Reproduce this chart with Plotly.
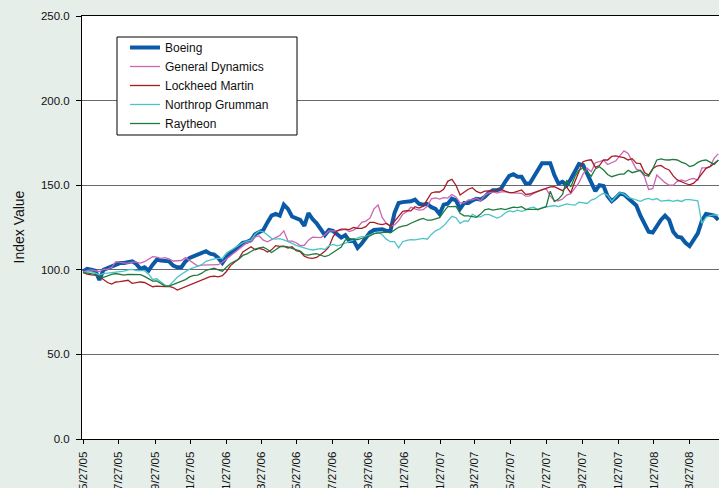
import pandas as pd
import plotly.graph_objects as go

# Weekly observation dates
dates = pd.date_range("2005-05-27", periods=156, freq="7D")

boeing = [99, 100.5, 100, 99.5, 94, 100, 101, 102, 103.5, 104, 104, 104.5, 105, 103.5, 100.5, 101.5,
          99.5, 103, 106, 105.5, 105.5, 105, 102.5, 101.5, 101.5, 105, 107, 108, 108.5, 110, 111, 109.5,
          109, 107, 104, 107.5, 110, 111.5, 114, 116, 116.5, 117.5, 121, 122.5, 123.5, 128, 132, 133,
          132, 138.5, 136, 131.5, 130.5, 129.5, 126, 133.5, 130, 127.5, 124, 120.5, 123.5, 123, 121, 119,
          120.5, 117, 117.5, 113, 115.5, 119, 122, 123.5, 124, 124, 123, 123, 133.5, 139.5, 140, 140,
          140.5, 141.5, 139, 138.5, 139, 137, 136, 133, 138.5, 139, 142, 141, 136, 139.5, 139.5, 141,
          142, 141.5, 143, 145.5, 147, 147, 148, 152, 155.5, 156.5, 155, 155, 151, 151, 154.5, 159,
          163, 163, 163, 156, 151, 152, 150, 153.5, 158, 162.5, 162, 157, 151, 146.5, 150, 149.5,
          143.5, 140.5, 142.5, 145, 144.5, 142.5, 140, 138, 132, 127, 122.5, 122, 126, 129.5, 132, 129.5,
          122.5, 119.5, 119, 116, 114, 117.5, 121.5, 129, 133, 132.5, 132, 129.5]

general_dynamics = [98.5, 99.5, 100, 99.5, 99, 100.3, 100.3, 101.5, 104.8, 104.5, 104, 104, 104.5, 104.5, 104, 104.8,
                    106.5, 107.8, 107.5, 106.8, 107.2, 106.5, 105.2, 105.2, 105.5, 107.2, 105.5, 104, 102.2, 102.8, 102.8, 102.8,
                    102.8, 103, 104.5, 106.5, 108.3, 110, 112, 114.5, 116, 116.5, 119.5, 120, 117.5, 116.5, 117.6, 119,
                    120.3, 123, 117, 117, 116, 114.3, 114.5, 117.5, 119.3, 119, 119, 120.6, 123, 123, 123, 123.5,
                    123.9, 122.6, 123.5, 125, 128, 128.8, 130.5, 136, 138.3, 131, 127.5, 126, 126.5, 129, 132.8, 134.3,
                    137, 136, 135.3, 135.5, 137.5, 142, 142.5, 141.8, 142.7, 142.4, 144.5, 143, 139.5, 139.5, 141.3, 141.3,
                    142.3, 140.7, 144, 145.5, 146, 145.3, 146, 146.2, 145.6, 145.5, 145.5, 145.2, 143.5, 143.7, 145.2, 146.5,
                    147.3, 148, 143.5, 141, 140.7, 141.8, 144.2, 145, 148, 151.5, 156.5, 160, 158, 163.3, 163.9, 164.8,
                    162.2, 163.4, 164.4, 167.5, 170.3, 168.8, 164.5, 159.5, 158.5, 155, 147.5, 148, 156, 153.5, 151.5, 150,
                    150, 152.3, 153.1, 152.3, 153.5, 154, 153, 160.2, 160.2, 161, 166, 168.5]

lockheed_martin = [98.5, 97.5, 97, 96.8, 96, 94.5, 92.5, 91.6, 92.8, 93, 93.2, 93.8, 92, 92.4, 92.8, 92.5,
                   91, 90, 90.4, 90, 90, 90.2, 89.5, 88, 89, 89.8, 91, 92.2, 93.2, 94, 95, 96,
                   96.2, 95.8, 96.5, 99, 102.5, 104.8, 106.5, 110.5, 111.8, 113.6, 111.8, 112.6, 112, 110.5, 111.8, 114.3,
                   113.8, 114, 112.9, 113.6, 111.3, 110.7, 108, 107, 106.8, 107.3, 109, 110.9, 113.5, 119.5, 123, 124,
                   124, 123.8, 125, 124.5, 124.5, 125.5, 128, 128, 127.2, 126.7, 127.4, 125.8, 128.6, 131.8, 134.5, 134.9,
                   134.8, 137.3, 136.5, 137.6, 141.5, 145.4, 146.1, 146, 147.6, 152.3, 153.5, 150, 144.2, 146, 147.6, 148.5,
                   146.3, 145.3, 146.5, 146.7, 146.5, 147.3, 147.5, 146.5, 145.6, 145.6, 146.4, 147.2, 144.6, 144.8, 145.6, 146.5,
                   147.3, 148.1, 149, 149.1, 147.8, 146.8, 149, 145.5, 152, 157.5, 163.9, 164.7, 165, 160.5, 161.6, 164.9,
                   164.9, 167, 167.3, 166.8, 166.3, 164.9, 165.7, 163, 162.7, 157.5, 156, 159.7, 161.3, 161.7, 160, 159,
                   155.5, 153.1, 151.8, 151, 150.2, 151.2, 153.6, 157, 160, 161, 162.6, 164.7]

northrop_grumman = [98.5, 98.8, 98.9, 98, 97, 97.7, 98, 98.3, 98.9, 98.9, 99.2, 100, 100.3, 99.5, 99.3, 99.5,
                    97.4, 94.3, 94.7, 93, 91, 90.5, 93, 95.6, 97.4, 98.9, 100.4, 101.3, 102, 103, 105, 105.8,
                    106.4, 106.8, 106.8, 110, 111.6, 113.2, 114.8, 116, 116.9, 117.5, 121, 123, 122.5, 120.3, 118.6, 118.1,
                    118.4, 117.7, 116.4, 115.6, 114.4, 113.6, 113, 112.2, 111.7, 112, 112.5, 112, 114.2, 115, 114.2, 114.9,
                    115.8, 116.5, 117.6, 118.9, 119.6, 119.8, 120.6, 121.4, 122.2, 120.7, 118.1, 116.6, 116.6, 113, 116.6, 117.4,
                    117.8, 117.7, 118.1, 118.6, 118.1, 120.9, 123, 124.1, 126, 129.1, 131.6, 130.8, 127.4, 128.9, 128.7, 132.8,
                    131.4, 131.3, 132.6, 132.8, 131.5, 130.6, 131.5, 133.6, 134.8, 134.3, 135.2, 134.6, 135.3, 136.6, 137, 135.4,
                    136.8, 137.3, 137.7, 138, 137.4, 138.2, 139, 138.5, 138.2, 140, 139.6, 139.2, 141.2, 142, 143.9, 145.2,
                    144.1, 140.4, 143.2, 145.6, 144.7, 142.8, 142.1, 141.4, 140.5, 141.6, 142.2, 141.3, 142.1, 140.6, 141, 141.1,
                    140.5, 141.1, 140.4, 141.5, 141.5, 141.3, 140.8, 127.5, 131, 132, 132.5, 132.4]

raytheon = [98.3, 98, 97.8, 97, 96, 95.5, 96.6, 97.3, 97.8, 97.2, 96.9, 97.3, 97.3, 96.9, 97.1, 96.1,
            94.5, 93.3, 93.4, 91.8, 90.4, 90.4, 91.4, 92.5, 93.3, 94.2, 95.8, 96.7, 96.9, 98, 99.7, 100.5,
            101, 100, 99.2, 101.5, 103.7, 105, 106.2, 108.5, 109.4, 110.8, 112.2, 112.9, 113.3, 112, 110.2, 111.8,
            113.5, 113.8, 113.6, 112.7, 111.9, 111, 109, 108.7, 109.3, 109.5, 108.6, 107.8, 108.6, 110.2, 111.8, 113.4,
            117.6, 118.5, 117.8, 117.8, 118.5, 119.4, 120, 121.4, 121.6, 122.2, 122.3, 121.8, 123.4, 125.1, 125.8, 126.3,
            127.5, 128.8, 129.6, 130.4, 129.3, 129.3, 130, 130.8, 134.2, 137.3, 137.3, 137.5, 133.4, 131.9, 131.9, 131.5,
            131, 132.9, 135.4, 136, 135.3, 135.7, 136.1, 135.6, 136.5, 137, 136.7, 137.3, 135.7, 135.8, 136, 135.7,
            136.5, 137.3, 146.5, 140.3, 141.8, 144.5, 153, 149, 155, 158.9, 160.2, 158.2, 155.2, 159.6, 160.9, 159,
            156.3, 155, 155.8, 156.6, 156.6, 158.8, 157.4, 158, 158.8, 156, 155.3, 159.5, 164.9, 165.6, 165, 164.9,
            165.3, 164.9, 163.6, 162.8, 161, 161.7, 163.5, 164.5, 164.9, 163.6, 162.3, 164.9]

series_names = ["Boeing", "General Dynamics", "Lockheed Martin", "Northrop Grumman", "Raytheon"]
series_values = [boeing, general_dynamics, lockheed_martin, northrop_grumman, raytheon]
series_colors = ["#0b5aa8", "#cc66b3", "#a51c24", "#4cc3c7", "#1f7a3c"]
series_widths = [4, 1.3, 1.3, 1.3, 1.3]

tick_dates = ["2005-05-27", "2005-07-27", "2005-09-27", "2005-11-27", "2006-01-27", "2006-03-27",
              "2006-05-27", "2006-07-27", "2006-09-27", "2006-11-27", "2007-01-27", "2007-03-27",
              "2007-05-27", "2007-07-27", "2007-09-27", "2007-11-27", "2008-01-27", "2008-03-27"]
tick_labels = ["5/27/05", "7/27/05", "9/27/05", "11/27/05", "1/27/06", "3/27/06",
               "5/27/06", "7/27/06", "9/27/06", "11/27/06", "1/27/07", "3/27/07",
               "5/27/07", "7/27/07", "9/27/07", "11/27/07", "1/27/08", "3/27/08"]

FONT = "Liberation Sans, Arial, Helvetica, sans-serif"

fig = go.Figure()
for name, vals, col, w in zip(series_names, series_values, series_colors, series_widths):
    fig.add_trace(go.Scatter(x=dates, y=vals, mode="lines", name=name,
                             line=dict(color=col, width=w)))

# legend frame
fig.add_shape(type="rect", xref="paper", yref="paper",
              x0=35 / 637, x1=215 / 637, y0=(439 - 135) / 423, y1=(439 - 37) / 423,
              line=dict(color="black", width=1), fillcolor="white", layer="above")

fig.add_annotation(text="Index Value", xref="paper", yref="paper", x=-64 / 637, y=0.5,
                   textangle=-90, showarrow=False, xanchor="center", yanchor="middle",
                   font=dict(size=14, color="#111", family=FONT))

fig.update_layout(
    width=719, height=488,
    margin=dict(l=82, r=0, t=16, b=49),
    paper_bgcolor="#e5eee9",
    plot_bgcolor="white",
    font=dict(family=FONT, size=12, color="#111"),
    showlegend=True,
    legend=dict(x=43 / 637, y=(439 - 33) / 423, xanchor="left", yanchor="top",
                bgcolor="rgba(0,0,0,0)", borderwidth=0, tracegroupgap=0,
                font=dict(size=12, color="#111", family=FONT), itemwidth=30),
    xaxis=dict(
        range=["2005-05-25 07:00", "2008-05-17 05:00"],
        tickmode="array", tickvals=tick_dates, ticktext=tick_labels,
        tickangle=-90, ticks="outside", ticklen=4, tickcolor="black",
        ticklabelstandoff=3,
        showline=True, linecolor="black", linewidth=1, mirror=True,
        showgrid=False, zeroline=False, automargin=False,
        tickfont=dict(size=11.5, color="#111"),
    ),
    yaxis=dict(
        range=[0, 250], dtick=50, tick0=0, tickformat=".1f",
        ticks="outside", ticklen=5, tickcolor="black",
        ticklabelstandoff=4,
        showline=True, linecolor="black", linewidth=1,
        showgrid=True, gridcolor="#6a6a6a", gridwidth=1,
        zeroline=False, automargin=False,
        tickfont=dict(size=11.5, color="#111"),
    ),
)

fig.write_html("out.html")
